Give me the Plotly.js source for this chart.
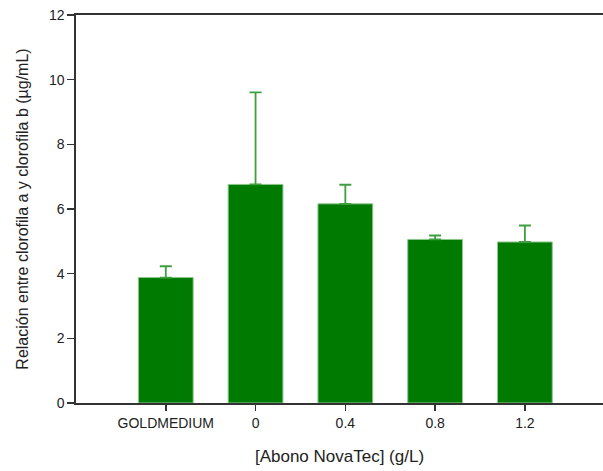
<!DOCTYPE html>
<html>
<head>
<meta charset="utf-8">
<script src="https://cdn.plot.ly/plotly-3.0.1.min.js"></script>
<style>html,body{margin:0;padding:0;background:#fff;}#chart{width:603px;height:471px;}</style>
</head>
<body>
<div id="chart"></div>
<script>
const categories = ["GOLDMEDIUM", "0", "0.4", "0.8", "1.2"];
const values = [3.88, 6.76, 6.16, 5.06, 4.98];
const errors = [0.35, 2.85, 0.59, 0.12, 0.51];
const yTicks = [0, 2, 4, 6, 8, 10, 12];

const trace = {
  type: "bar",
  x: categories.map((c, i) => i),
  y: values,
  width: 0.61,
  marker: {color: "#007a00", line: {color: "#8cc88c", width: 1}},
  error_y: {type: "data", array: errors, symmetric: false, arrayminus: errors.map(() => 0),
            color: "#3f9f3f", thickness: 1.8, width: 6}
};

const fam = "Liberation Sans, Arial, sans-serif";
const layout = {
  width: 603, height: 471,
  margin: {l: 76, r: 0, t: 15, b: 68},
  paper_bgcolor: "#fff", plot_bgcolor: "#fff",
  showlegend: false,
  bargap: 0,
  xaxis: {
    range: [-1, 4.87],
    tickmode: "array",
    tickvals: categories.map((c, i) => i),
    ticktext: categories,
    ticks: "outside", ticklen: 6, tickwidth: 1.5, tickcolor: "#333",
    showline: true, linecolor: "#333", linewidth: 1.7, mirror: true,
    showgrid: false, zeroline: false,
    tickfont: {family: fam, size: 14, color: "#222"},
    title: {text: "[Abono NovaTec] (g/L)", font: {family: fam, size: 17, color: "#222"}, standoff: 20}
  },
  yaxis: {
    range: [0, 12],
    tickmode: "array",
    tickvals: yTicks,
    ticktext: yTicks.map(String),
    ticks: "outside", ticklen: 7, tickwidth: 1.5, tickcolor: "#333",
    showline: true, linecolor: "#333", linewidth: 1.7,
    showgrid: false, zeroline: false,
    tickfont: {family: fam, size: 14, color: "#222"},
    title: {text: "Relación entre clorofila a y clorofila b (µg/mL)", font: {family: fam, size: 16, color: "#222"}, standoff: 16}
  }
};

Plotly.newPlot("chart", [trace], layout, {displayModeBar: false, staticPlot: true});
</script>
</body>
</html>
